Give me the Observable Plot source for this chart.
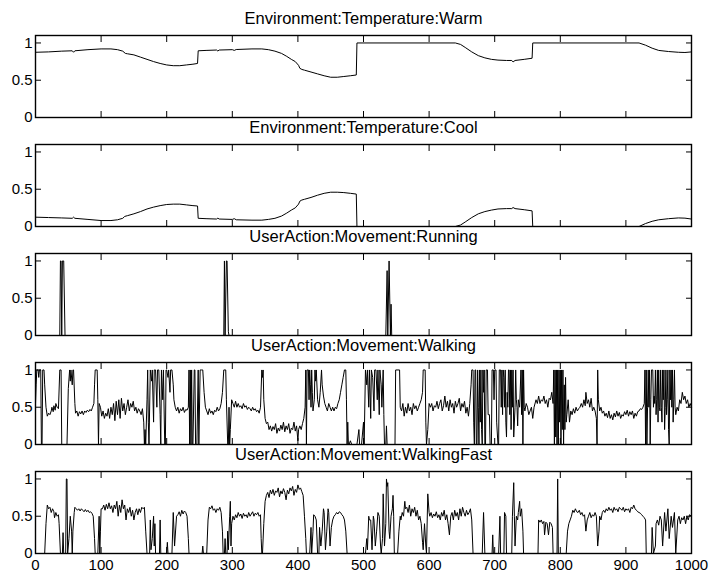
<!DOCTYPE html>
<html><head><meta charset="utf-8">
<script src="https://cdn.jsdelivr.net/npm/d3@7"></script>
<script src="https://cdn.jsdelivr.net/npm/@observablehq/plot@0.6"></script>
<style>
body{margin:0;background:#fff;}
#chart{width:710px;padding-top:9px;}
#chart svg{display:block;}
</style></head><body><div id="chart"></div>
<script>
const titles = ["Environment:Temperature:Warm","Environment:Temperature:Cool","UserAction:Movement:Running","UserAction:Movement:Walking","UserAction:Movement:WalkingFast"];
const xTicks = [0,100,200,300,400,500,600,700,800,900,1000];
const xTickLabels = ["0","100","200","300","400","500","600","700","800","900","1000"];
const yTicks = [0,0.5,1];
const yTickLabels = ["0","0.5","1"];

const warm = [[0,0.875],[20,0.88],[40,0.89],[56,0.895],[58,0.875],[60,0.895],[80,0.91],[100,0.92],[115,0.92],[125,0.91],[133,0.89],[137,0.86],[140,0.855],[150,0.84],[160,0.81],[170,0.78],[180,0.75],[190,0.725],[200,0.705],[210,0.695],[220,0.695],[230,0.705],[240,0.715],[247,0.725],[248,0.895],[260,0.9],[276,0.905],[278,0.892],[280,0.905],[300,0.91],[303,0.9],[306,0.912],[330,0.92],[345,0.92],[355,0.91],[365,0.89],[375,0.86],[383,0.82],[390,0.78],[396,0.75],[401,0.7],[403,0.66],[406,0.645],[410,0.635],[420,0.61],[430,0.585],[440,0.56],[450,0.54],[460,0.54],[470,0.55],[480,0.56],[489,0.57],[490,1.0],[640,1.0],[648,0.98],[655,0.94],[665,0.88],[675,0.83],[685,0.8],[695,0.78],[705,0.77],[718,0.765],[726,0.765],[728,0.745],[731,0.765],[745,0.78],[757,0.795],[758,1.0],[920,1.0],[930,0.97],[940,0.93],[950,0.9],[965,0.885],[980,0.875],[990,0.872],[1000,0.88]];

const cool = [[0,0.125],[20,0.12],[40,0.115],[56,0.11],[58,0.125],[60,0.11],[80,0.095],[100,0.08],[115,0.08],[125,0.09],[133,0.11],[136,0.135],[140,0.145],[150,0.17],[160,0.2],[170,0.235],[180,0.26],[190,0.28],[200,0.295],[210,0.3],[220,0.3],[230,0.29],[240,0.28],[247,0.275],[248,0.11],[260,0.105],[276,0.1],[278,0.112],[280,0.1],[300,0.095],[303,0.105],[306,0.09],[330,0.085],[345,0.085],[355,0.095],[365,0.11],[375,0.14],[383,0.18],[390,0.22],[396,0.25],[401,0.3],[403,0.34],[406,0.355],[410,0.365],[420,0.39],[430,0.42],[440,0.445],[450,0.46],[460,0.46],[470,0.455],[480,0.445],[489,0.435],[490,0],[640,0],[648,0.02],[655,0.06],[665,0.12],[675,0.17],[685,0.2],[695,0.22],[705,0.235],[718,0.24],[726,0.24],[728,0.255],[731,0.24],[745,0.225],[757,0.21],[758,0],[920,0],[930,0.04],[940,0.07],[950,0.09],[965,0.105],[980,0.115],[990,0.112],[1000,0.1]];

const running = [[0,0],[37,0],[38,1],[39,1],[40,0],[41,1],[43,1],[45,0],[287,0],[288,1],[289,0],[291,1],[292,1],[294,0.05],[295,0],[534,0],[536,0.87],[537,0],[539,1],[541,0],[542,0.42],[543,0],[1000,0]];

const walking = [[0,0.55],[1,0.8],[2,1],[4,1],[5,0.9],[6,1],[8,1],[9,0],[10,0],[11,1],[13,1],[14,0.8],[16,0.5],[18,0.38],[20,0.42],[22,0.4],[24,0.45],[25,0.5],[27,0.44],[28,0.52],[30,0.46],[31,0.55],[33,0.5],[35,0.48],[37,1],[39,1],[40,0],[48,0],[50,0.75],[52,1],[53,0.85],[54,1],[56,0.8],[57,1],[58,1],[60,0.55],[61,0.42],[63,0.45],[65,0.38],[67,0.44],[69,0.41],[71,0.45],[73,0.4],[75,0.45],[77,0.43],[79,0.46],[81,0.44],[83,0.47],[85,0.45],[87,0.5],[89,0.55],[90,0.8],[91,1],[94,1],[95,0.6],[96,0],[97,0.55],[99,0.5],[101,0.38],[103,0.45],[105,0.35],[107,0.42],[109,0.38],[111,0.48],[113,0.35],[115,0.5],[117,0.4],[119,0.55],[121,0.32],[123,0.58],[125,0.4],[127,0.6],[129,0.35],[131,0.62],[133,0.45],[135,0.55],[137,0.4],[139,0.5],[141,0.6],[143,0.45],[145,0.55],[147,0.5],[149,0.58],[151,0.45],[153,0.5],[155,0.42],[157,0.48],[159,0.45],[161,0.4],[163,0.48],[165,0.3],[166,0],[167,0.2],[168,0],[170,0.6],[171,1],[172,0.3],[173,0],[175,1],[177,0.85],[178,1],[180,0.3],[181,1],[183,1],[185,0.5],[186,1],[188,1],[190,0.4],[191,0],[192,1],[194,0.6],[195,1],[197,0],[198,0],[199,1],[200,1],[202,0.9],[203,1],[205,0.7],[206,1],[208,1],[210,0.8],[211,0.6],[213,0.5],[215,0.45],[217,0.5],[219,0.42],[221,0.48],[223,0.45],[225,0.5],[227,0.43],[229,0.47],[231,0.46],[233,0.5],[234,1],[235,0],[236,1],[237,0],[238,1],[239,0],[240,0],[242,1],[243,1],[244,0],[246,0],[248,1],[249,0],[251,1],[253,1],[255,1],[257,0.7],[259,0.5],[261,0.45],[263,0.4],[265,0.48],[267,0.42],[269,0.45],[271,0.4],[273,0.46],[275,0.44],[277,0.5],[279,0.45],[281,0.48],[283,0.55],[285,0.7],[287,1],[290,1],[291,0.6],[293,0],[294,0],[295,0.5],[296,0],[297,0.2],[299,0.6],[301,0.55],[303,0.5],[305,0.58],[307,0.5],[309,0.55],[311,0.5],[313,0.52],[315,0.48],[317,0.55],[319,0.5],[321,0.52],[323,0.47],[325,0.5],[327,0.48],[329,0.45],[331,0.5],[333,0.46],[335,0.48],[337,0.44],[339,0.46],[341,0.42],[343,0.5],[345,1],[346,0.9],[347,1],[348,0.6],[350,0.35],[352,0.28],[354,0.3],[356,0.2],[358,0.25],[360,0.18],[362,0.24],[364,0.2],[366,0.28],[368,0.15],[370,0.22],[372,0.18],[374,0.26],[376,0.2],[378,0.3],[380,0.17],[382,0.25],[384,0.2],[386,0.28],[388,0.15],[390,0.22],[392,0.2],[394,0.3],[396,0.18],[398,0.25],[400,0.05],[401,0.2],[403,0.25],[405,0.2],[407,0.28],[409,0.35],[411,0.5],[412,1],[413,0],[414,1],[416,1],[417,0.6],[418,1],[419,0.8],[420,0.5],[421,1],[422,0.7],[423,0.45],[425,0.6],[426,1],[427,0.85],[428,1],[430,0.6],[432,0.5],[434,0.7],[436,1],[437,0.8],[439,0.65],[441,0.55],[443,0.5],[445,0.45],[447,0.55],[449,0.5],[451,0.45],[453,0.5],[455,0.45],[457,0.5],[459,0.48],[461,0.55],[463,0.6],[465,0.7],[467,0.8],[469,0.9],[471,1],[473,1],[474,0.6],[475,0],[476,0.3],[477,0],[478,0],[480,0.05],[482,0],[490,0],[493,0.2],[494,0],[497,0],[500,0.3],[501,0],[503,1],[505,0.8],[506,1],[508,0.5],[509,1],[511,0.35],[512,1],[514,0.9],[516,0.45],[517,1],[519,1],[521,0.6],[522,1],[524,0.4],[525,1],[527,0.8],[528,0.5],[530,1],[531,0.4],[532,0],[534,0],[535,0.25],[536,0],[548,0],[549,1],[555,1],[556,0.5],[558,0.45],[560,0.55],[562,0.38],[564,0.5],[566,0.42],[568,0.55],[570,0.45],[572,0.5],[574,0.4],[576,0.55],[578,0.48],[580,0.52],[582,0.45],[584,0.5],[586,0.55],[588,0.6],[590,0.7],[591,1],[594,1],[595,0.3],[596,0],[598,0.2],[600,0.55],[602,0.5],[604,0.55],[606,0.45],[608,0.52],[610,0.5],[612,0.58],[614,0.48],[616,0.55],[618,0.6],[620,0.45],[622,0.52],[624,0.65],[626,0.5],[628,0.58],[630,0.45],[632,0.6],[634,0.5],[636,0.55],[638,0.42],[640,0.58],[642,0.5],[644,0.55],[646,0.62],[648,0.45],[650,0.55],[652,0.5],[654,0.58],[656,0.42],[658,0.5],[660,0.38],[662,0.55],[664,0.8],[665,1],[667,1],[668,0.3],[669,0],[670,1],[671,1],[672,0],[673,0],[674,1],[675,0.5],[676,0],[677,1],[678,0.3],[679,1],[680,0.2],[681,0],[682,1],[683,0.7],[684,1],[685,0],[686,0],[687,1],[689,1],[690,0.4],[692,0.4],[693,0],[695,0],[696,1],[698,1],[699,0.6],[700,1],[702,1],[703,0.3],[705,0],[706,0],[707,1],[709,1],[710,0.5],[711,1],[712,0.4],[713,1],[714,0.9],[715,0.5],[716,1],[717,0.3],[718,0.1],[719,0.7],[720,0.5],[721,1],[722,1],[723,0.4],[724,1],[725,0.2],[726,1],[727,0.5],[728,1],[729,0.1],[731,0.5],[732,1],[733,0.6],[734,0.5],[735,0.25],[736,0.6],[738,0.5],[740,1],[741,0.4],[742,1],[743,0],[744,1],[745,0.5],[746,0.45],[748,0.55],[750,0.5],[752,0.4],[754,0.45],[756,0.5],[758,0.35],[760,0.5],[763,0.6],[765,0.55],[767,0.65],[769,0.55],[771,0.6],[773,0.58],[775,0.65],[777,0.55],[779,0.6],[781,0.5],[783,0.62],[785,0.6],[787,0.7],[789,0.55],[790,1],[791,0],[792,1],[793,0.1],[794,1],[795,0],[796,1],[797,0],[798,1],[799,0.3],[800,1],[801,0],[802,1],[803,0.2],[804,1],[805,0],[806,0.8],[807,0.2],[808,0.9],[809,0.3],[810,0.4],[812,0.6],[814,0.3],[816,0.45],[818,0.4],[820,0.48],[822,0.42],[824,0.5],[826,0.45],[828,0.48],[830,0.5],[832,0.55],[834,0.5],[836,0.6],[838,0.52],[839,0.7],[841,0.55],[843,0.6],[845,0.5],[847,0.62],[849,0.45],[851,0.5],[853,0.45],[855,0.35],[856,0],[857,1],[858,0.6],[860,0.45],[862,0.5],[864,0.42],[866,0.45],[868,0.38],[870,0.42],[872,0.36],[874,0.45],[876,0.35],[878,0.4],[880,0.33],[882,0.42],[884,0.37],[886,0.45],[888,0.38],[890,0.43],[892,0.35],[894,0.4],[896,0.38],[898,0.44],[900,0.4],[902,0.46],[904,0.38],[906,0.44],[908,0.4],[910,0.45],[912,0.35],[914,0.42],[916,0.38],[918,0.44],[920,0.45],[922,0.48],[924,0.47],[926,0.5],[928,0.55],[929,1],[930,0],[931,1],[932,0],[933,0.5],[934,1],[935,0.5],[936,1],[937,0],[938,0.6],[939,1],[941,1],[942,0.5],[943,0.65],[944,0.55],[945,1],[946,0.4],[947,0.6],[948,1],[949,0.3],[950,1],[951,0.5],[952,0.45],[953,1],[954,0.5],[955,0.3],[956,1],[957,0.6],[958,1],[959,0.2],[960,0.5],[961,1],[962,0.4],[963,0.6],[964,1],[965,0.2],[966,0],[967,1],[968,0.6],[969,1],[970,0.5],[971,1],[972,0.3],[973,0.6],[974,1],[975,0.5],[976,0.4],[978,0.5],[980,0.45],[982,0.6],[984,0.55],[986,0.7],[988,0.6],[990,0.65],[992,0.55],[994,0.6],[996,0.5],[998,0.55],[1000,0.5]];

const walkingFast = [[0,0],[14,0],[16,0.4],[18,0.65],[20,0.6],[22,0.62],[24,0.55],[26,0.6],[28,0.56],[29,0.48],[31,0.55],[33,0.5],[35,0.52],[36,0.4],[38,0],[41,0],[42,0.28],[43,0],[46,0],[47,1],[48,1],[49,0],[51,0.2],[53,0.5],[55,0.3],[56,0],[57,0.3],[59,0.55],[60,0.62],[62,0.6],[64,0.58],[66,0.6],[68,0.57],[70,0.6],[72,0.58],[74,0.56],[76,0.59],[78,0.56],[80,0.58],[82,0.55],[84,0.56],[86,0.54],[88,0.5],[90,0.2],[91,0],[95,0],[97,0.5],[98,0],[99,0.3],[100,0.6],[102,0.6],[104,0.65],[106,0.58],[108,0.66],[110,0.6],[112,0.68],[114,0.6],[116,0.64],[118,0.55],[120,0.65],[122,0.6],[124,0.7],[126,0.5],[128,0.65],[130,0.55],[132,0.72],[134,0.6],[136,0.65],[138,0.45],[140,0.6],[142,0.55],[144,0.62],[146,0.5],[148,0.58],[150,0.45],[152,0.55],[154,0.6],[156,0.52],[158,0.6],[160,0.55],[162,0.62],[164,0.6],[166,0.62],[168,0.3],[170,0],[174,0],[175,0.45],[176,0.05],[178,0.2],[180,0.5],[181,0.1],[182,0.4],[183,0],[189,0],[190,0.45],[191,0],[200,0],[201,0.15],[202,0],[208,0],[210,0.55],[212,0.1],[215,0.5],[217,0.52],[219,0.56],[221,0.5],[223,0.58],[225,0.53],[227,0.57],[229,0.55],[231,0.5],[233,0.2],[234,0],[254,0],[255,0.1],[256,0],[261,0],[263,0.45],[265,0.62],[267,0.6],[269,0.64],[271,0.58],[273,0.6],[275,0.55],[277,0.6],[279,0.58],[281,0.62],[283,0.55],[285,0.3],[286,0],[288,0],[289,0.2],[290,0],[292,0],[293,0.3],[294,0.05],[296,0.5],[297,0.7],[298,0.1],[299,0.4],[301,0.5],[303,0.45],[305,0.52],[307,0.48],[309,0.55],[311,0.5],[313,0.53],[315,0.47],[317,0.54],[319,0.5],[321,0.52],[323,0.48],[325,0.55],[327,0.5],[329,0.53],[331,0.56],[333,0.5],[335,0.54],[337,0.52],[339,0.55],[341,0.5],[343,0.52],[344,0.2],[345,0],[346,0],[348,0.4],[350,0.7],[352,0.78],[354,0.82],[356,0.75],[358,0.85],[360,0.8],[362,0.86],[364,0.78],[366,0.84],[368,0.82],[370,0.88],[372,0.76],[374,0.84],[376,0.8],[378,0.87],[380,0.82],[382,0.72],[384,0.85],[386,0.8],[388,0.88],[390,0.84],[392,0.9],[394,0.78],[396,0.86],[398,0.82],[400,0.92],[402,0.86],[404,0.88],[406,0.83],[408,0.78],[410,0.5],[412,0.2],[413,0],[418,0],[420,0.35],[421,0],[423,0.3],[424,0.52],[426,0.5],[428,0.45],[430,0],[432,0],[433,0.35],[435,0.1],[437,0.3],[439,0.6],[440,0.55],[442,0.05],[444,0.3],[446,0.6],[447,0.55],[449,0.1],[451,0.35],[453,0.45],[455,0.5],[457,0.52],[459,0.55],[461,0.53],[463,0.56],[465,0.55],[467,0.52],[469,0.5],[471,0.45],[473,0.3],[475,0],[503,0],[505,0.2],[506,0.05],[508,0.5],[509,0.45],[511,0.45],[513,0.05],[515,0.5],[516,0.45],[518,0.1],[520,0.3],[522,0.55],[524,0.5],[526,0.1],[527,0],[529,0.2],[530,0.8],[532,0.1],[534,0.4],[535,1],[536,0.9],[537,0.95],[539,0.3],[540,0.2],[542,0.5],[544,0.6],[545,0.78],[546,0.5],[547,0],[552,0],[554,0.3],[556,0.5],[557,0.45],[559,0.55],[561,0.5],[563,0.7],[564,0.6],[566,0.62],[568,0.55],[570,0.65],[572,0.5],[574,0.6],[576,0.55],[578,0.62],[580,0.5],[582,0.58],[584,0.45],[586,0.5],[588,0.4],[590,0.15],[591,0.05],[593,0.4],[595,0.1],[596,0],[598,0.8],[600,0.55],[601,0.5],[603,0.55],[605,0.48],[607,0.53],[609,0.5],[611,0.56],[613,0.48],[615,0.52],[617,0.45],[619,0.55],[621,0.5],[623,0.58],[625,0.45],[627,0.52],[629,0.4],[631,0.25],[633,0.5],[635,0.55],[637,0.45],[639,0.58],[641,0.5],[643,0.55],[645,0.45],[647,0.6],[649,0.5],[651,0.62],[653,0.55],[655,0.5],[657,0.58],[659,0.52],[661,0.55],[663,0.6],[665,0.45],[667,0],[681,0],[683,0.55],[685,0],[696,0],[697,0.25],[698,0],[706,0],[708,0.5],[709,0],[714,0],[715,0.55],[717,0.5],[718,0],[726,0],[727,0.5],[729,0.95],[730,0.5],[731,0.1],[733,0.5],[735,0.45],[736,0.55],[738,0.7],[739,0.5],[741,0.6],[743,0.3],[744,0],[766,0],[767,0.45],[769,0.42],[771,0.45],[773,0.4],[775,0.43],[776,0.25],[778,0.42],[780,0.4],[782,0.25],[784,0.42],[786,0.4],[788,0.35],[789,0],[795,0],[796,1],[797,0],[809,0],[811,0.3],[813,0.4],[815,0.45],[817,0.5],[819,0.58],[821,0.55],[823,0.6],[825,0.56],[827,0.55],[829,0.58],[831,0.52],[833,0.55],[835,0.5],[837,0.52],[839,0.3],[841,0.45],[843,0.5],[845,0.55],[847,0.48],[849,0.52],[851,0.5],[853,0.55],[855,0.5],[857,0.1],[859,0.3],[860,0.5],[862,0.45],[864,0.55],[866,0.58],[868,0.55],[870,0.6],[872,0.57],[874,0.62],[876,0.58],[878,0.6],[880,0.55],[882,0.62],[884,0.58],[886,0.6],[888,0.56],[890,0.62],[892,0.6],[894,0.58],[896,0.62],[898,0.56],[900,0.6],[902,0.58],[904,0.6],[906,0.55],[908,0.62],[910,0.6],[912,0.65],[914,0.6],[916,0.58],[918,0.56],[920,0.55],[922,0.54],[924,0.52],[926,0.5],[928,0.48],[930,0.45],[931,0],[939,0],[940,0.35],[942,0],[945,0.1],[946,0.4],[948,0.45],[950,0.38],[952,0.5],[954,0.45],[956,0.1],[959,0.55],[961,0.3],[964,0.6],[966,0.2],[969,0.5],[971,0.35],[974,0.55],[976,0],[979,0.45],[981,0.5],[983,0.4],[985,0.48],[987,0.45],[989,0.5],[991,0.4],[993,0.5],[995,0.45],[997,0.52],[1000,0.5]];

const series = [warm, cool, running, walking, walkingFast];
const font = "'Liberation Sans', Arial, Helvetica, sans-serif";
const blank = () => "";

function panel(data, title, last) {
  return Plot.plot({
    width: 710,
    height: last ? 129 : 109,
    marginLeft: 35, marginRight: 19, marginTop: 26, marginBottom: last ? 21 : 1,
    style: {fontFamily: font, fontSize: "15px", color: "black", background: "white", overflow: "visible"},
    x: {domain: [0, 1000]},
    y: {domain: [0, 1.1]},
    marks: [
      Plot.line(data, {x: d => d[0], y: d => d[1], stroke: "black", strokeWidth: 1}),
      Plot.axisY(yTicks, {anchor: "left", tickSize: -6, tickPadding: 9, label: null, fontSize: 15,
        tickFormat: d => yTickLabels[yTicks.indexOf(d)]}),
      Plot.axisY(yTicks, {anchor: "right", tickSize: -6, label: null, tickFormat: blank}),
      Plot.axisX(xTicks, {anchor: "top", tickSize: -6, label: null, tickFormat: blank}),
      Plot.axisX(xTicks, {anchor: "bottom", tickSize: -6, tickPadding: 12, label: null, fontSize: 15,
        tickFormat: last ? (d => xTickLabels[xTicks.indexOf(d)]) : blank}),
      Plot.frame({stroke: "black", strokeWidth: 1.4}),
      Plot.text([title], {frameAnchor: "top", dy: -17, lineAnchor: "middle", text: d => d, fontSize: 16.5, fill: "black"})
    ]
  });
}

const root = document.getElementById("chart");
series.forEach((s, i) => root.appendChild(panel(s, titles[i], i === series.length - 1)));
</script>
</body></html>
